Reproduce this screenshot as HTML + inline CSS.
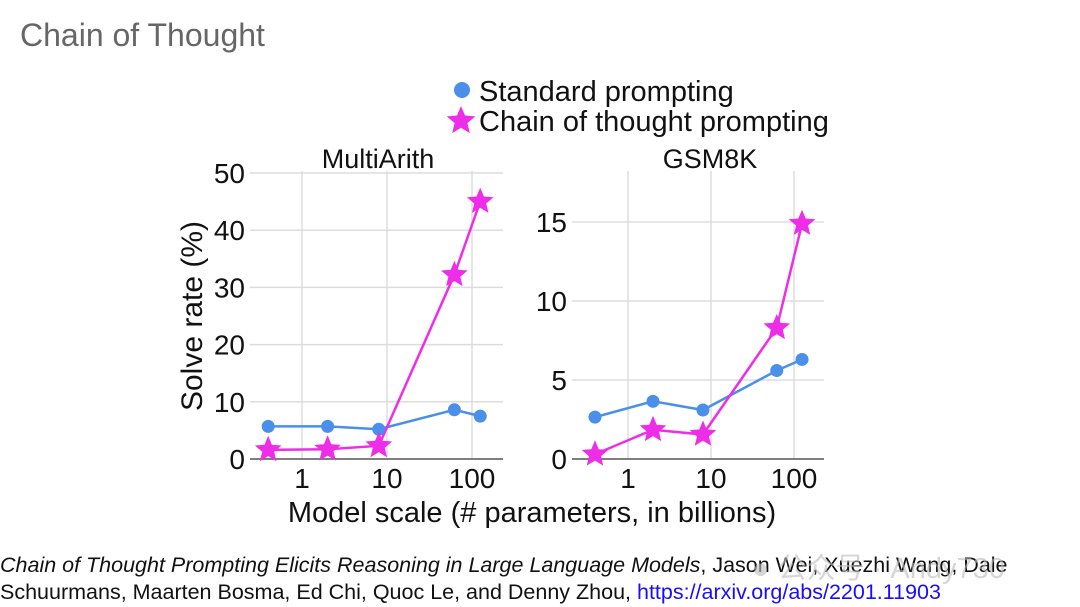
<!DOCTYPE html>
<html><head><meta charset="utf-8"><style>
body{margin:0;width:1080px;height:607px;background:#fff;overflow:hidden;font-family:"Liberation Sans",sans-serif;position:relative}
.t{position:absolute;white-space:nowrap}
</style></head><body>
<div class="t" style="left:20px;top:17px;font-size:32px;color:#666">Chain of Thought</div>
<svg id="c" width="1080" height="540" style="position:absolute;left:0;top:0" font-family="Liberation Sans, sans-serif"></svg>
<div class="t" style="left:0;top:553px;font-size:21.5px;color:#111"><i>Chain of Thought Prompting Elicits Reasoning in Large Language Models</i>, Jason Wei, Xuezhi Wang, Dale</div>
<div class="t" style="left:0;top:580px;font-size:21.5px;color:#111">Schuurmans, Maarten Bosma, Ed Chi, Quoc Le, and Denny Zhou, <a style="color:#1a0dff;text-decoration:none">https://arxiv.org/abs/2201.11903</a></div>
<div class="t" style="left:752px;top:545px;font-size:29px;color:#bbb;opacity:.6;font-family:'Liberation Sans','Noto Sans CJK SC',sans-serif">● 公众号 · Andy730</div>
<script>
const models=[0.4,2,8,62,125];
const maStd=[5.7,5.7,5.2,8.6,7.5];
const maCot=[1.6,1.7,2.3,32.2,45];
const gsmStd=[2.65,3.65,3.1,5.6,6.3];
const gsmCot=[0.3,1.85,1.55,8.3,14.9];
const maTicks=[0,10,20,30,40,50];
const gsmTicks=[0,5,10,15];
const xTicks=[1,10,100];
const svg=document.getElementById('c');const NS='http://www.w3.org/2000/svg';
function mk(t,a,txt){const e=document.createElementNS(NS,t);for(const k in a)e.setAttribute(k,a[k]);if(txt!==undefined)e.textContent=txt;svg.appendChild(e);return e;}
function star(cx,cy,R){const r=R*0.45;let p=[];for(let i=0;i<10;i++){const a=-Math.PI/2+i*Math.PI/5;const rr=i%2?r:R;p.push((cx+rr*Math.cos(a)).toFixed(1)+','+(cy+rr*Math.sin(a)).toFixed(1));}return p.join(' ');}
function panel(name,x0,x1,x1pos,dec,yMax,yTop,ticks,std,cot,title,tcx){
  const y0=459;const sy=v=>y0-(y0-yTop)*v/yMax;const sx=v=>x1pos+dec*Math.log10(v);
  ticks.forEach(t=>{if(t>0){const g=mk('line',{x1:x0,x2:x1,y1:sy(t),y2:sy(t),stroke:'#ddd','stroke-width':1.5});}
    const l=mk('text',{x:x0-5,y:sy(t)+10,'text-anchor':'end','font-size':28,fill:'#111'},t);});
  xTicks.forEach(t=>{const g=mk('line',{x1:sx(t),x2:sx(t),y1:y0-288,y2:y0,stroke:'#ddd','stroke-width':1.5});
    const l=mk('text',{x:sx(t),y:488,'text-anchor':'middle','font-size':28,fill:'#111'},t);});
  const ax=mk('line',{x1:x0,x2:x1,y1:y0,y2:y0,stroke:'#555','stroke-width':1.5});
  const tt=mk('text',{x:tcx,y:168,'text-anchor':'middle','font-size':27,fill:'#111'},title);
  const ls=mk('polyline',{points:models.map((m,i)=>sx(m)+','+sy(std[i])).join(' '),fill:'none',stroke:'#4a8fea','stroke-width':2.5});
  const lc=mk('polyline',{points:models.map((m,i)=>sx(m)+','+sy(cot[i])).join(' '),fill:'none',stroke:'#ee2de8','stroke-width':2.5});
  models.forEach((m,i)=>{const c=mk('circle',{cx:sx(m),cy:sy(std[i]),r:6.5,fill:'#4a8fea'});});
  models.forEach((m,i)=>{const s=mk('polygon',{points:star(sx(m),sy(cot[i]),14),fill:'#ee2de8'});});
}
panel('multiarith',250,503,302,85,50,173,maTicks,maStd,maCot,'MultiArith',378);
panel('gsm8k',572,824,628,83,15,222,gsmTicks,gsmStd,gsmCot,'GSM8K',710);
const yl=mk('text',{x:0,y:0,transform:'translate(202,316) rotate(-90)','text-anchor':'middle','font-size':30,fill:'#111'},'Solve rate (%)');

const xl=mk('text',{x:532,y:522,'text-anchor':'middle','font-size':29,fill:'#111'},'Model scale (# parameters, in billions)');

const ld=mk('circle',{cx:462,cy:90,r:8,fill:'#4a8fea'});
const lt=mk('text',{x:479,y:101,'font-size':29,fill:'#111'},'Standard prompting');
const ls2=mk('polygon',{points:star(461,121,15),fill:'#ee2de8'});
const lt2=mk('text',{x:479,y:131,'font-size':29,fill:'#111'},'Chain of thought prompting');
</script>
</body></html>
